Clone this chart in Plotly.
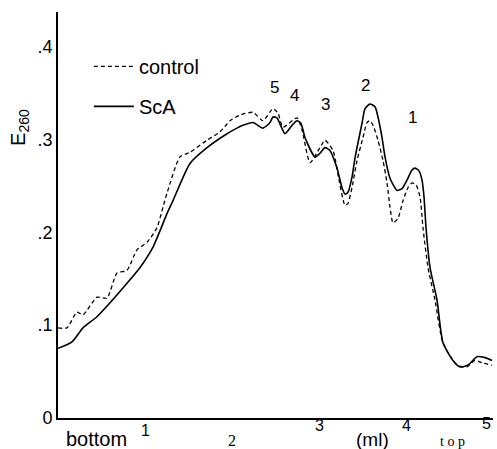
import plotly.graph_objects as go

# ---- data (volume in ml from bottom, E260) ----
sca_x = [0, 0.161, 0.287, 0.448, 0.598, 0.793, 0.943, 1.092, 1.253, 1.322, 1.517, 1.713,
         1.943, 2.057, 2.126, 2.241, 2.356, 2.437, 2.471, 2.517, 2.609, 2.690, 2.747, 2.793,
         2.839, 2.954, 3.011, 3.069, 3.126, 3.207, 3.264, 3.299, 3.333, 3.379, 3.414, 3.494,
         3.529, 3.586, 3.644, 3.678, 3.724, 3.759, 3.816, 3.897, 3.954, 4.011, 4.069, 4.103,
         4.149, 4.184, 4.207, 4.230, 4.276, 4.356, 4.425, 4.540, 4.621, 4.713, 4.816, 4.908, 4.989]
sca_y = [0.075, 0.082, 0.097, 0.109, 0.124, 0.145, 0.162, 0.184, 0.220, 0.234, 0.274, 0.291,
         0.306, 0.312, 0.315, 0.318, 0.312, 0.318, 0.324, 0.323, 0.306, 0.315, 0.320, 0.317,
         0.302, 0.281, 0.285, 0.291, 0.288, 0.269, 0.248, 0.241, 0.243, 0.259, 0.280, 0.317,
         0.333, 0.338, 0.335, 0.324, 0.302, 0.281, 0.258, 0.245, 0.247, 0.256, 0.267, 0.269,
         0.266, 0.256, 0.238, 0.205, 0.162, 0.127, 0.081, 0.062, 0.055, 0.057, 0.066, 0.065, 0.062]

control_x = [0, 0.103, 0.218, 0.287, 0.448, 0.563, 0.678, 0.793, 0.908, 1.023, 1.138, 1.207,
             1.253, 1.402, 1.517, 1.713, 1.862, 1.977, 2.092, 2.241, 2.356, 2.471, 2.529, 2.586,
             2.747, 2.805, 2.897, 3.011, 3.069, 3.161, 3.230, 3.299, 3.333, 3.379, 3.437, 3.506,
             3.552, 3.586, 3.621, 3.678, 3.736, 3.782, 3.816, 3.851, 3.908, 3.966, 4.023, 4.069,
             4.115, 4.161, 4.195, 4.253, 4.333, 4.425, 4.586, 4.701, 4.793, 4.885, 4.989]
control_y = [0.097, 0.097, 0.114, 0.111, 0.130, 0.129, 0.156, 0.159, 0.181, 0.189, 0.205, 0.227,
             0.242, 0.281, 0.286, 0.299, 0.308, 0.320, 0.326, 0.329, 0.320, 0.333, 0.328, 0.313,
             0.323, 0.310, 0.275, 0.291, 0.299, 0.288, 0.256, 0.229, 0.231, 0.248, 0.277, 0.302,
             0.318, 0.320, 0.315, 0.299, 0.277, 0.253, 0.227, 0.210, 0.215, 0.234, 0.248, 0.253,
             0.251, 0.238, 0.205, 0.162, 0.127, 0.081, 0.057, 0.055, 0.062, 0.059, 0.057]

series_names = ["control", "ScA"]
peak_labels = ["5", "4", "3", "2", "1"]
y_tick_values = [0, 0.1, 0.2, 0.3, 0.4]
y_tick_labels = ["0", ".1", ".2", ".3", ".4"]
x_tick_values = [1, 2, 3, 4, 5]
x_tick_labels = ["1", "2", "3", "4", "5"]

# ---- layout positions / styles ----
peak_pos = [(2.494, 0.356), (2.713, 0.347), (3.080, 0.337), (3.529, 0.358), (4.069, 0.323)]
x_tick_shift = [-12, -22, -7, -7, -5]   # pixels below the x axis
SANS = "Liberation Sans, Arial, sans-serif"
SERIF = "Liberation Serif, DejaVu Serif, serif"

fig = go.Figure()
fig.add_trace(go.Scatter(x=control_x, y=control_y, mode="lines", name=series_names[0],
                         legendgroup="a",
                         line=dict(color="black", width=1.3, dash="4px,3px", shape="spline", smoothing=0.6)))
fig.add_trace(go.Scatter(x=sca_x, y=sca_y, mode="lines", name=series_names[1],
                         legendgroup="b",
                         line=dict(color="black", width=1.6, shape="spline", smoothing=0.6)))

ann = []
for lab, (px, py) in zip(peak_labels, peak_pos):
    ann.append(dict(x=px, y=py, xref="x", yref="y", text=lab, showarrow=False,
                    font=dict(family=SANS, size=17, color="black")))
for v, lab, sh in zip(x_tick_values, x_tick_labels, x_tick_shift):
    fam = SERIF if v == 2 else SANS
    ann.append(dict(x=v, y=0, xref="x", yref="paper", yshift=sh, text=lab, showarrow=False,
                    yanchor="middle", xanchor="right" if v == 5 else "center",
                    font=dict(family=fam, size=16, color="black")))
ann.append(dict(x=0.444, y=0, xref="x", yref="paper", yshift=-21, text="bottom", showarrow=False,
                yanchor="middle", font=dict(family=SANS, size=20, color="black")))
ann.append(dict(x=3.62, y=0, xref="x", yref="paper", yshift=-21, text="(ml)", showarrow=False,
                yanchor="middle", font=dict(family=SANS, size=19, color="black")))
ann.append(dict(x=4.53, y=0, xref="x", yref="paper", yshift=-23, text="t o p", showarrow=False,
                yanchor="middle", font=dict(family=SERIF, size=14, color="black")))
ann.append(dict(x=-0.122, y=0.766, xref="paper", yref="paper", text="E<sub>260</sub>", showarrow=False,
                textangle=-90, font=dict(family=SANS, size=20, color="black")))

fig.update_layout(
    width=497, height=449,
    margin=dict(l=58, r=4, t=12, b=31, autoexpand=False),
    plot_bgcolor="white", paper_bgcolor="white",
    showlegend=True,
    legend=dict(x=0.071, y=0.914, xanchor="left", yanchor="top", bgcolor="rgba(0,0,0,0)",
                font=dict(family=SANS, size=20, color="black"), tracegroupgap=11, itemwidth=40),
    annotations=ann,
    xaxis=dict(range=[0, 5], showgrid=False, zeroline=False, showline=True, linecolor="black",
               linewidth=2, showticklabels=False, ticks="", automargin=False),
    yaxis=dict(range=[0, 0.437], showgrid=False, zeroline=False, showline=True, linecolor="black",
               linewidth=2, tickvals=y_tick_values, ticktext=y_tick_labels, ticks="",
               automargin=False, tickfont=dict(family=SANS, size=18, color="black")),
)

fig.write_html("out.html", config={"displayModeBar": False},
               post_script="document.body.style.margin='0px';")
